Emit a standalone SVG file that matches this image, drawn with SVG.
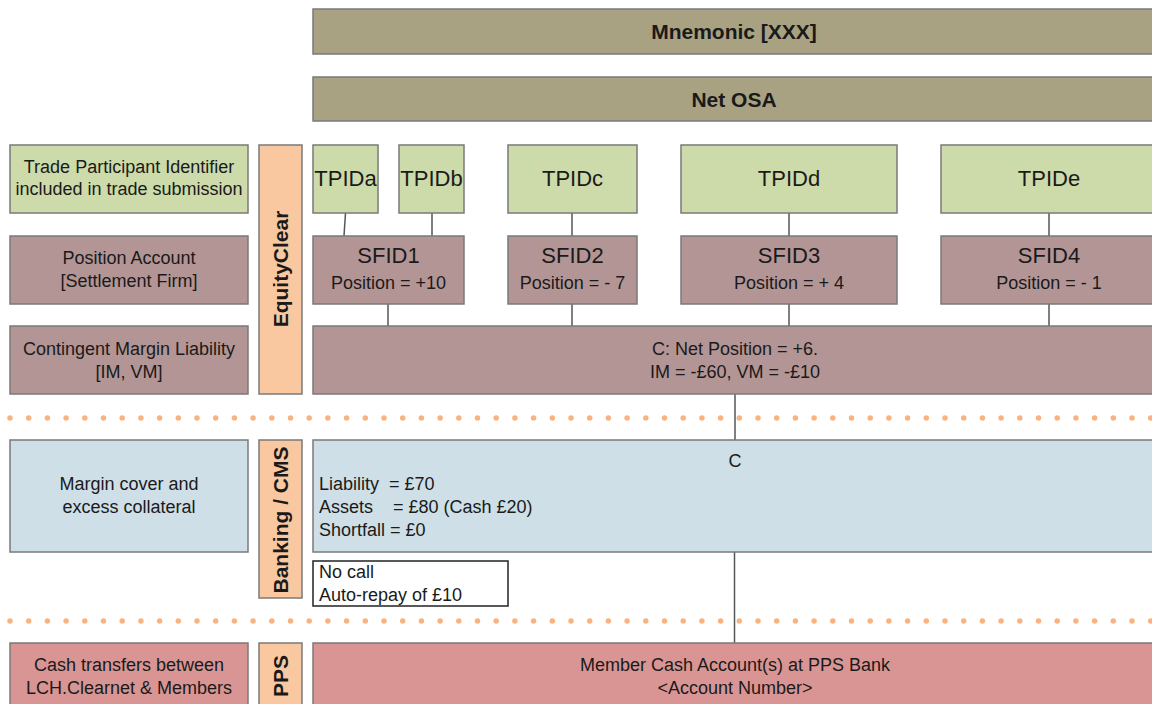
<svg xmlns="http://www.w3.org/2000/svg" width="1152" height="704" viewBox="0 0 1152 704">
<style>
text{font-family:"Liberation Sans",Arial,sans-serif;fill:#1a1a1a;white-space:pre}
.box{stroke:#7a7a7a;stroke-width:1.5}
.tan{fill:#a8a283}
.grn{fill:#cddaa9}
.mau{fill:#b39595}
.pch{fill:#fac8a0}
.blu{fill:#cedfe7}
.red{fill:#d99594}
.wht{fill:#ffffff;stroke:#222}
.c{text-anchor:middle}
.t16{font-size:18px}
.t20{font-size:22px}
.b{font-weight:bold}
.v{font-size:21px;font-weight:bold}
.con line{stroke:#555;stroke-width:1.5}
.dots line{stroke:#f9b380;stroke-width:5.5;stroke-linecap:round;stroke-dasharray:0 18.7}
</style>
<g class="dots">
<line x1="10" y1="418" x2="1152" y2="418"/>
<line x1="10" y1="621" x2="1152" y2="621"/>
</g>
<g class="con">
<line x1="345.5" y1="213" x2="344" y2="236"/>
<line x1="432" y1="213" x2="432" y2="236"/>
<line x1="572" y1="213" x2="572" y2="236"/>
<line x1="789" y1="213" x2="789" y2="236"/>
<line x1="1049" y1="213" x2="1049" y2="236"/>
<line x1="388" y1="304" x2="388" y2="326"/>
<line x1="572" y1="304" x2="572" y2="326"/>
<line x1="789" y1="304" x2="789" y2="326"/>
<line x1="1049" y1="304" x2="1049" y2="326"/>
<line x1="735" y1="394" x2="735" y2="440"/>
<line x1="734.5" y1="552" x2="734.5" y2="643"/>
</g>
<g id="mnemonic"><rect class="box tan" x="313" y="9" width="850" height="45"/><text class="c b" font-size="21" x="734" y="39">Mnemonic [XXX]</text></g>
<g id="netosa"><rect class="box tan" x="313" y="77" width="850" height="44"/><text class="c b" font-size="21" x="734" y="107">Net OSA</text></g>
<g id="lbl-tpid"><rect class="box grn" x="10" y="145" width="238" height="68"/><text class="c t16" x="129" y="173">Trade Participant Identifier</text><text class="c t16" x="129" y="195">included in trade submission</text></g>
<g id="lbl-pos"><rect class="box mau" x="10" y="236" width="238" height="68"/><text class="c t16" x="129" y="264">Position Account</text><text class="c t16" x="129" y="287">[Settlement Firm]</text></g>
<g id="lbl-cml"><rect class="box mau" x="10" y="326" width="238" height="68"/><text class="c t16" x="129" y="355">Contingent Margin Liability</text><text class="c t16" x="129" y="378">[IM, VM]</text></g>
<g id="equityclear"><rect class="box pch" x="259" y="145" width="43" height="249"/><text class="c v" transform="translate(288,269) rotate(-90)">EquityClear</text></g>
<g id="tpida"><rect class="box grn" x="313" y="145" width="65" height="68"/><text class="c t20" x="345.5" y="186">TPIDa</text></g>
<g id="tpidb"><rect class="box grn" x="399" y="145" width="65" height="68"/><text class="c t20" x="431.5" y="186">TPIDb</text></g>
<g id="tpidc"><rect class="box grn" x="508" y="145" width="129" height="68"/><text class="c t20" x="572.5" y="186">TPIDc</text></g>
<g id="tpidd"><rect class="box grn" x="681" y="145" width="216" height="68"/><text class="c t20" x="789" y="186">TPIDd</text></g>
<g id="tpide"><rect class="box grn" x="941" y="145" width="220" height="68"/><text class="c t20" x="1049" y="186">TPIDe</text></g>
<g id="sfid1"><rect class="box mau" x="313" y="236" width="151" height="68"/><text class="c t20" x="388.5" y="263">SFID1</text><text class="c t16" x="388.5" y="289">Position = +10</text></g>
<g id="sfid2"><rect class="box mau" x="508" y="236" width="129" height="68"/><text class="c t20" x="572.5" y="263">SFID2</text><text class="c t16" x="572.5" y="289">Position = - 7</text></g>
<g id="sfid3"><rect class="box mau" x="681" y="236" width="216" height="68"/><text class="c t20" x="789" y="263">SFID3</text><text class="c t16" x="789" y="289">Position = + 4</text></g>
<g id="sfid4"><rect class="box mau" x="941" y="236" width="220" height="68"/><text class="c t20" x="1049" y="263">SFID4</text><text class="c t16" x="1049" y="289">Position = - 1</text></g>
<g id="netpos"><rect class="box mau" x="313" y="326" width="850" height="68"/><text class="c t16" x="735" y="355">C: Net Position = +6.</text><text class="c t16" x="735" y="378">IM = -£60, VM = -£10</text></g>
<g id="lbl-margin"><rect class="box blu" x="10" y="440" width="238" height="112"/><text class="c t16" x="129" y="490">Margin cover and</text><text class="c t16" x="129" y="513">excess collateral</text></g>
<g id="banking"><rect class="box pch" x="259" y="440" width="43" height="158"/><text class="c v" transform="translate(288,520) rotate(-90)">Banking / CMS</text></g>
<g id="cms-c"><rect class="box blu" x="313" y="440" width="850" height="112"/><text class="c t16" x="735" y="467">C</text><text class="t16" x="319" y="490">Liability  = £70</text><text class="t16" x="319" y="513">Assets    = £80 (Cash £20)</text><text class="t16" x="319" y="536">Shortfall = £0</text></g>
<g id="nocall"><rect class="box wht" x="313" y="561" width="195" height="45"/><text class="t16" x="319" y="578">No call</text><text class="t16" x="319" y="601">Auto-repay of £10</text></g>
<g id="lbl-cash"><rect class="box red" x="10" y="643" width="238" height="70"/><text class="c t16" x="129" y="671">Cash transfers between</text><text class="c t16" x="129" y="694">LCH.Clearnet &amp; Members</text></g>
<g id="pps"><rect class="box pch" x="259" y="643" width="43" height="70"/><text class="c v" transform="translate(288,676) rotate(-90)">PPS</text></g>
<g id="membercash"><rect class="box red" x="313" y="643" width="850" height="70"/><text class="c t16" x="735" y="671">Member Cash Account(s) at PPS Bank</text><text class="c t16" x="735" y="694">&lt;Account Number&gt;</text></g>
</svg>
